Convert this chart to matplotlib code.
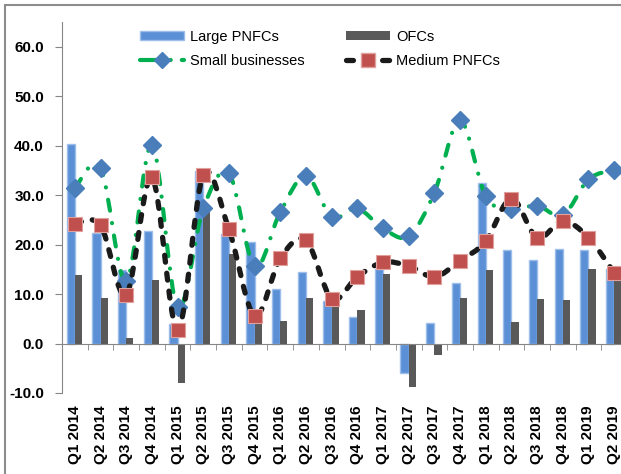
import numpy as np
import matplotlib
matplotlib.use("Agg")
from matplotlib import pyplot as plt
from matplotlib.path import Path
from matplotlib.patches import PathPatch, Patch, Rectangle
from matplotlib.lines import Line2D

plt.rcParams['font.family'] = ['Liberation Sans', 'DejaVu Sans']
plt.rcParams['lines.scale_dashes'] = False

quarters = ['Q1 2014', 'Q2 2014', 'Q3 2014', 'Q4 2014', 'Q1 2015', 'Q2 2015',
            'Q3 2015', 'Q4 2015', 'Q1 2016', 'Q2 2016', 'Q3 2016', 'Q4 2016',
            'Q1 2017', 'Q2 2017', 'Q3 2017', 'Q4 2017', 'Q1 2018', 'Q2 2018',
            'Q3 2018', 'Q4 2018', 'Q1 2019', 'Q2 2019']
large_pnfcs = [40.3, 22.4, 14.9, 22.7, 3.9, 34.8, 22.1, 20.5, 11.1, 14.4, 8.6,
               5.3, 15.1, -5.9, 4.2, 12.3, 32.4, 18.9, 16.8, 19.2, 19.0, 15.1]
ofcs = [13.9, 9.3, 1.1, 12.9, -7.9, 27.3, 18.0, 4.2, 4.5, 9.3, 7.8,
        6.7, 14.0, -8.8, -2.3, 9.3, 14.8, 4.3, 9.0, 8.9, 15.1, 13.2]
small_businesses = [31.4, 35.5, 12.6, 40.1, 7.3, 27.3, 34.4, 15.6, 26.6, 33.9, 25.6,
                    27.3, 23.3, 21.7, 30.5, 45.1, 29.8, 27.1, 27.9, 25.9, 33.2, 35.1]
medium_pnfcs = [24.2, 23.9, 9.8, 33.6, 2.8, 34.1, 23.1, 5.6, 17.2, 20.9, 9.1,
                13.5, 16.4, 15.7, 13.5, 16.7, 20.7, 29.3, 21.4, 24.8, 21.4, 14.3]

BLUE_BAR = '#5B8FD6'
GREY_BAR = '#595959'
GREEN = '#00B050'
DIAMOND = '#4A7EBB'
RED = '#C0504D'
AXIS = '#868686'

# dash patterns in points, round caps eat into the gaps
green_dash = (0, (8, 9, 0.1, 9))
black_dash = (0, (5, 8))


def smooth_path(xs, ys):
    # excel style smoothed line, catmull-rom as bezier curves
    pts = np.column_stack([xs, ys]).astype(float)
    p = np.vstack([pts[0], pts, pts[-1]])
    verts = [pts[0]]
    codes = [Path.MOVETO]
    for i in range(1, len(p) - 2):
        p0, p1, p2, p3 = p[i - 1], p[i], p[i + 1], p[i + 2]
        verts += [p1 + (p2 - p0) / 6, p2 - (p3 - p1) / 6, p2]
        codes += [Path.CURVE4] * 3
    return Path(verts, codes)


fig = plt.figure(figsize=(6.21, 4.74), dpi=100)
ax = fig.add_axes([62 / 621, 81 / 474, 565 / 621, 371 / 474])

x = np.arange(len(quarters))
ax.bar(x - 0.16, large_pnfcs, width=0.32, color=BLUE_BAR,
       edgecolor='#9DBDEA', linewidth=1, zorder=2)
ax.bar(x + 0.14, ofcs, width=0.28, color=GREY_BAR, zorder=2)

ax.add_patch(PathPatch(smooth_path(x, small_businesses), fill=False,
                       edgecolor=GREEN, lw=3, linestyle=green_dash,
                       capstyle='round', zorder=3))
ax.plot(x, small_businesses, linestyle='none', marker='D', markersize=9.5,
        color=DIAMOND, markeredgecolor=DIAMOND, zorder=4)
ax.add_patch(PathPatch(smooth_path(x, medium_pnfcs), fill=False,
                       edgecolor='#1a1a1a', lw=3.8, linestyle=black_dash,
                       capstyle='round', zorder=5))
ax.plot(x, medium_pnfcs, linestyle='none', marker='s', markersize=10,
        color=RED, markeredgecolor='#E0A09E', markeredgewidth=0.8, zorder=6)

ax.set_xlim(-0.5, len(quarters) - 0.5)
ax.set_ylim(-10, 65)
ax.set_yticks(np.arange(-10, 61, 10))
ax.set_yticklabels(['%.1f' % v for v in np.arange(-10, 61, 10)],
                   fontsize=11, fontweight='bold')
ax.tick_params(axis='y', direction='out', length=5, color=AXIS, pad=8)

for s in ['top', 'right']:
    ax.spines[s].set_visible(False)
ax.spines['left'].set_color(AXIS)
ax.spines['bottom'].set_color(AXIS)
ax.spines['bottom'].set_position(('data', 0))

ax.set_xticks([])
ax.set_xticks(np.arange(0.5, len(quarters) - 1, 1), minor=True)
ax.tick_params(axis='x', which='minor', direction='out', length=4, color=AXIS,
               labelbottom=False)

sec = ax.secondary_xaxis('bottom')
sec.set_xticks(x)
sec.set_xticklabels(quarters, rotation=90, fontsize=11, fontweight='bold')
sec.tick_params(length=0, pad=9)
sec.spines['bottom'].set_visible(False)

handles = [
    Patch(facecolor=BLUE_BAR, edgecolor='#9DBDEA', label='Large PNFCs'),
    Line2D([], [], color=GREEN, lw=3, linestyle=(0, (14, 8, 0.1, 8)),
           dash_capstyle='round', marker='D', markersize=8,
           markerfacecolor=DIAMOND, markeredgecolor=DIAMOND,
           label='Small businesses'),
    Patch(facecolor=GREY_BAR, label='OFCs'),
    Line2D([], [], color='#1a1a1a', lw=3.8, linestyle=(0, (5, 8)),
           dash_capstyle='round', marker='s', markersize=10,
           markerfacecolor=RED, markeredgecolor='#E0A09E', label='Medium PNFCs'),
]
fig.legend(handles=handles, ncol=2, loc='upper left', frameon=False,
           bbox_to_anchor=(140 / 621, 1 - 30 / 474), fontsize=10.5,
           handlelength=3.0, handletextpad=0.45, columnspacing=2.8,
           labelspacing=0.7, borderpad=0, borderaxespad=0, handleheight=0.6)

# chart frame, cut off on the right
fig.patches.append(Rectangle((5 / 621, -0.1), 1.2, (474 - 5) / 474 + 0.1,
                             transform=fig.transFigure, fill=False,
                             edgecolor='#8c8c8c', lw=1.5))

plt.savefig('out.png', dpi=100)
